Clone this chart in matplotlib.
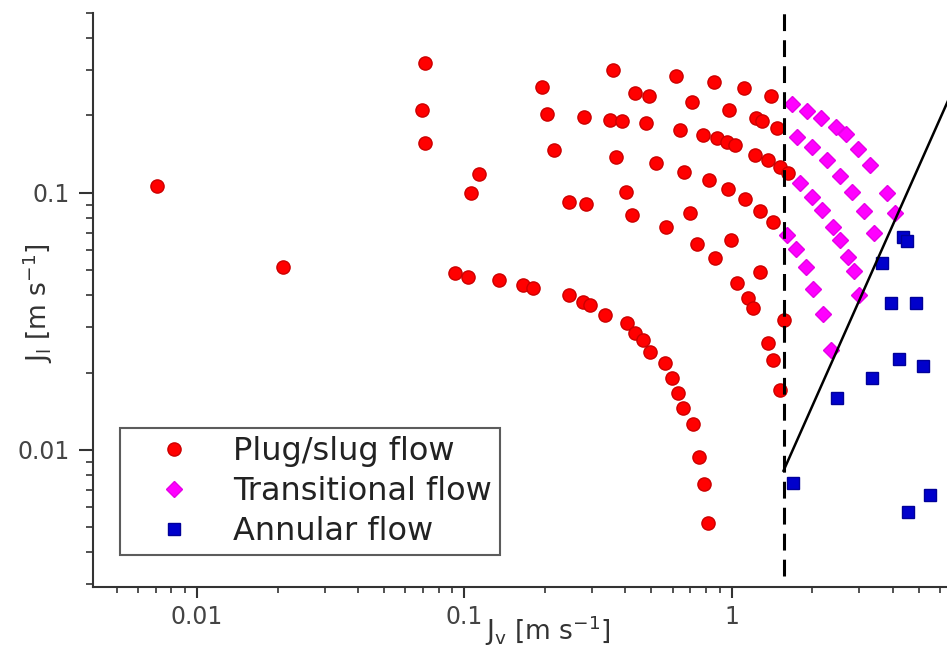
import matplotlib
matplotlib.use("Agg")
import matplotlib.pyplot as plt
from matplotlib.ticker import NullFormatter, LogLocator

plt.rcParams['font.family'] = ['DejaVu Sans']
plt.rcParams['mathtext.default'] = 'regular'

# Plug/slug flow  (Jv, Jl) in m/s
plug_jv = [0.0071, 0.021, 0.0712, 0.0694, 0.0712, 0.113, 0.106,
           0.195, 0.203, 0.216,
           0.280, 0.350, 0.388, 0.477, 0.639, 0.779, 0.879, 0.958, 1.026, 1.219, 1.363, 1.512, 1.619,
           0.359, 0.618, 0.856, 1.109, 1.399,
           0.434, 0.490, 0.709, 0.975, 1.229, 1.294, 1.473,
           0.368, 0.520, 0.661, 0.821, 0.966, 1.118, 1.273, 1.423,
           0.246, 0.285, 0.402, 0.423, 0.567, 0.697, 0.740, 0.992, 0.864, 1.273, 1.044,
           1.148, 1.198, 1.565, 1.363, 1.423, 1.512,
           0.092, 0.103, 0.135, 0.166, 0.180, 0.246, 0.277, 0.294, 0.335, 0.405, 0.434,
           0.465, 0.494, 0.562, 0.597, 0.628, 0.656, 0.715, 0.753, 0.786, 0.813]
plug_jl = [0.1065, 0.0515, 0.3205, 0.2104, 0.1565, 0.1186, 0.100,
           0.2585, 0.2029, 0.147,
           0.1975, 0.1923, 0.1906, 0.1872, 0.1758, 0.1681, 0.1637, 0.1579, 0.1537, 0.1405, 0.1344, 0.1263, 0.1196,
           0.3011, 0.2852, 0.2703, 0.2562, 0.2384,
           0.2449, 0.2384, 0.2259, 0.2104, 0.1957, 0.1906, 0.1790,
           0.138, 0.1308, 0.1207, 0.1123, 0.1036, 0.0948, 0.0851, 0.0771,
           0.0923, 0.0906, 0.1009, 0.0821, 0.0737, 0.0836, 0.0633, 0.0656, 0.0559, 0.0493, 0.0447,
           0.0390, 0.0357, 0.0320, 0.0261, 0.0224, 0.0171,
           0.0488, 0.0471, 0.0459, 0.0438, 0.0427, 0.0401, 0.0377, 0.0367, 0.0335, 0.0312, 0.0285,
           0.0268, 0.0241, 0.0218, 0.0191, 0.0167, 0.0146, 0.0126, 0.0094, 0.0074, 0.0052]

# Transitional flow
trans_jv = [1.68, 1.91, 2.15, 2.45, 2.67, 2.96, 3.28, 3.80, 4.07,
            1.75, 1.99, 2.27, 2.53, 2.81, 3.12, 3.40,
            1.80, 1.99, 2.17, 2.39, 2.53, 2.71, 2.86, 2.98,
            1.61, 1.74, 1.89, 2.01, 2.19, 2.35]
trans_jl = [0.222, 0.2085, 0.196, 0.181, 0.170, 0.148, 0.1285, 0.100, 0.0836,
            0.165, 0.151, 0.134, 0.1165, 0.1009, 0.0851, 0.0699,
            0.109, 0.0965, 0.0859, 0.0737, 0.0656, 0.0564, 0.0497, 0.0401,
            0.0686, 0.0605, 0.0515, 0.0423, 0.0338, 0.0245]

# Annular flow
ann_jv = [4.36, 4.51, 3.64, 3.93, 4.88, 4.21, 5.18, 3.34, 2.47, 1.69, 5.50, 4.55]
ann_jl = [0.0674, 0.0650, 0.0534, 0.0373, 0.0373, 0.0226, 0.0212, 0.0191, 0.0159, 0.00744, 0.00668, 0.00574]

# transition boundaries
jv_dashed = 1.56
bound_jv = [1.56, 8.0]
bound_jl = [0.0083, 0.38]

fig = plt.figure(figsize=(9.47, 6.5), dpi=100)
ax = fig.add_axes([0.0982, 0.0969, 0.957, 0.883])
ax.set_xscale('log')
ax.set_yscale('log')
ax.set_xlim(0.00408, 10)
ax.set_ylim(0.00293, 0.5)

ax.plot(plug_jv, plug_jl, 'o', color='#ff0000', mec='#cc0000', ms=9.5, label='Plug/slug flow', zorder=3)
ax.plot(trans_jv, trans_jl, 'D', color='#ff00ff', mec='#e600e6', ms=8, label='Transitional flow', zorder=3)
ax.plot(ann_jv, ann_jl, 's', color='#0000cc', mec='#000099', ms=9, label='Annular flow', zorder=3)

ax.axvline(jv_dashed, ymin=0.02, ymax=1.0, color='black', lw=2.2, ls=(0, (5.5, 3)), zorder=4)
ax.plot(bound_jv, bound_jl, '-', color='black', lw=1.8, zorder=4)

for s in ['top', 'right']:
    ax.spines[s].set_visible(False)
for s in ['left', 'bottom']:
    ax.spines[s].set_linewidth(1.5)
    ax.spines[s].set_color('#333333')

ax.set_xticks([0.01, 0.1, 1], labels=['0.01', '0.1', '1'])
ax.set_yticks([0.01, 0.1], labels=['0.01', '0.1'])
ax.xaxis.set_minor_locator(LogLocator(base=10, subs=range(2, 10)))
ax.yaxis.set_minor_locator(LogLocator(base=10, subs=range(2, 10)))
ax.xaxis.set_minor_formatter(NullFormatter())
ax.yaxis.set_minor_formatter(NullFormatter())
ax.tick_params(which='both', color='#333333', labelsize=17, labelcolor='#444444')
ax.tick_params(axis='x', which='major', length=8, width=1.5, pad=5)
ax.tick_params(axis='x', which='minor', length=4.5, width=1.2)
ax.tick_params(axis='y', which='major', length=10, width=1.5, pad=7)
ax.tick_params(axis='y', which='minor', length=5, width=1.2)

ax.set_xlabel('J$_v$ [m s$^{-1}$]', fontsize=19, color='#333333')
ax.xaxis.set_label_coords(0.502, -0.046)
ax.set_ylabel('J$_l$ [m s$^{-1}$]', fontsize=19, color='#333333')
ax.yaxis.set_label_coords(-0.042, 0.495)

leg = ax.legend(loc='lower left', bbox_to_anchor=(0.0298, 0.0557), borderaxespad=0,
                fontsize=23, frameon=True, fancybox=False, edgecolor='#333333',
                handletextpad=0.45, labelspacing=0.28, borderpad=0.25, handlelength=2.85)
leg.get_frame().set_linewidth(1.5)
for t in leg.get_texts():
    t.set_color('#222222')

fig.savefig('out.png', dpi=100)
